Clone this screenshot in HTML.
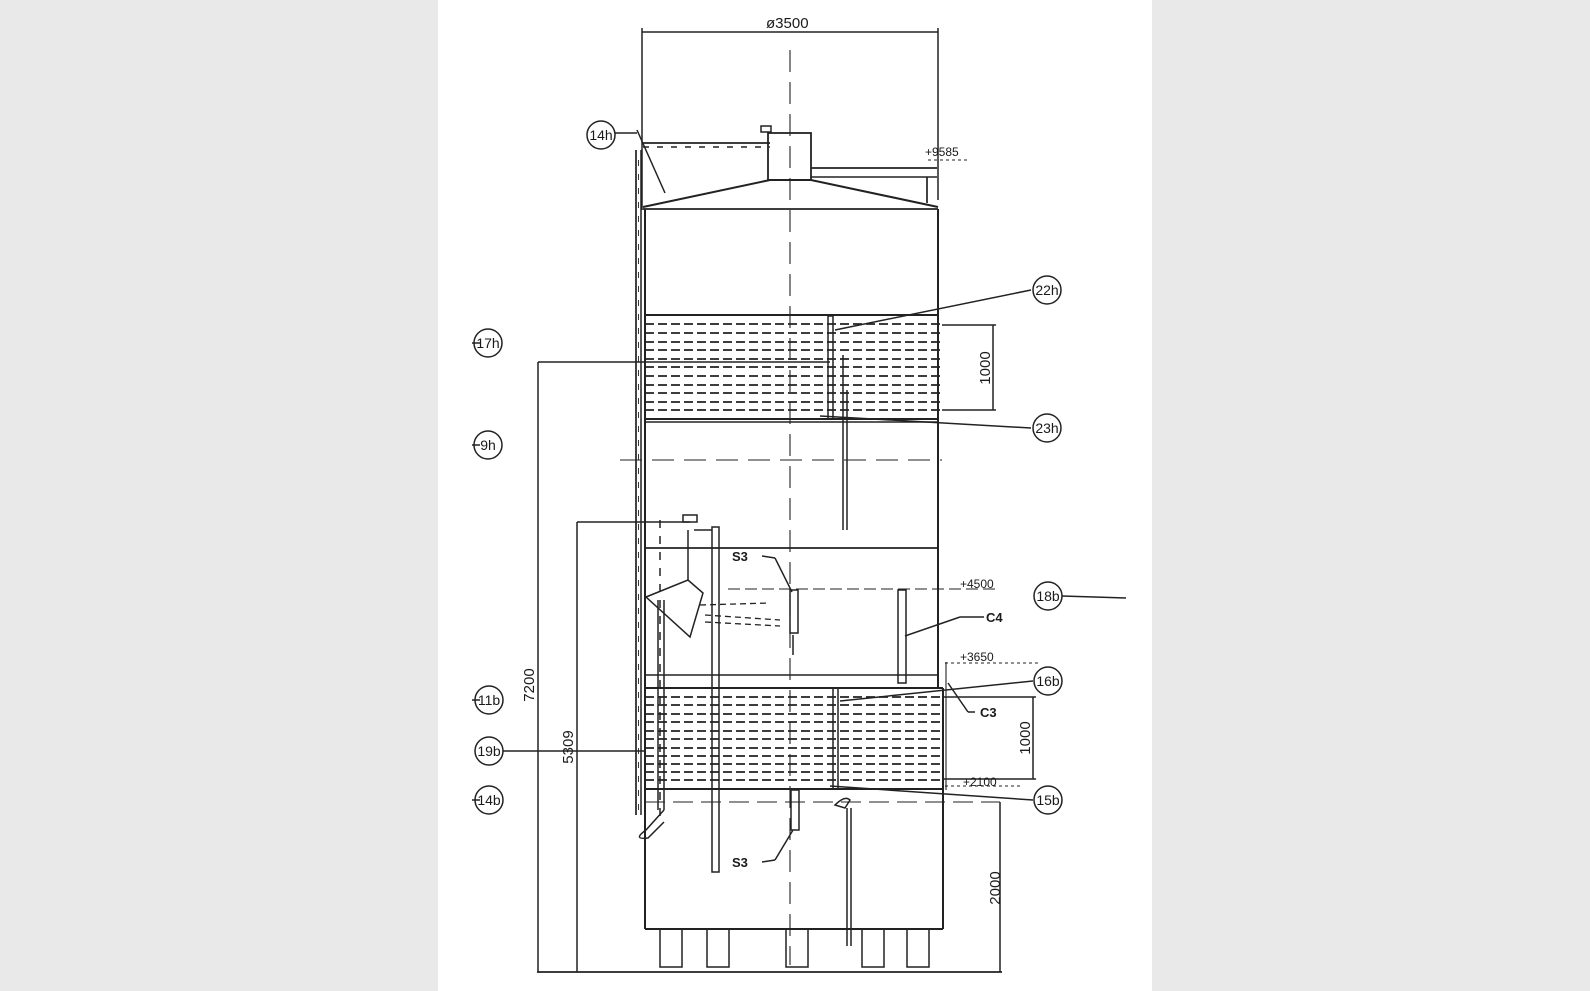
<!DOCTYPE html>
<html><head><meta charset="utf-8"><style>
html,body{margin:0;padding:0;background:#e9e9e9;}
svg{display:block;}
text{font-family:"Liberation Sans",Arial,sans-serif;fill:#1a1a1a;}
</style></head><body>
<svg width="1590" height="991" viewBox="0 0 1590 991" xmlns="http://www.w3.org/2000/svg">
<rect x="0" y="0" width="1590" height="991" fill="#e9e9e9"/>
<rect x="438" y="0" width="714" height="991" fill="#fff"/>
<g stroke="#222" fill="none" stroke-width="1.5">
<line x1="642" y1="32" x2="938" y2="32"/>
<line x1="642" y1="28" x2="642" y2="210"/>
<line x1="938" y1="28" x2="938" y2="200"/>
<line x1="790" y1="50" x2="790" y2="965" stroke-dasharray="22,10" stroke-width="1.1"/>
<polyline points="643,207 770,180 811,180 938,207" stroke-width="2"/>
<line x1="643" y1="209" x2="938" y2="209" stroke-width="1.7"/>
<rect x="768" y="133" width="43" height="47" stroke-width="1.8"/>
<rect x="761" y="126" width="10" height="6"/>
<line x1="643" y1="143" x2="770" y2="143" stroke-width="1.7"/>
<line x1="643" y1="147" x2="770" y2="147" stroke-dasharray="6,8"/>
<line x1="811" y1="168" x2="937" y2="168" stroke-width="1.7"/>
<line x1="811" y1="177" x2="937" y2="177"/>
<line x1="927" y1="177" x2="927" y2="203" stroke-width="1.7"/>
<line x1="637" y1="130" x2="665" y2="193"/>
<line x1="636" y1="150" x2="636" y2="815" stroke-width="1.7"/>
<line x1="641" y1="150" x2="641" y2="815"/>
<line x1="638.5" y1="160" x2="638.5" y2="810" stroke-dasharray="6,8" stroke-width="0.9"/>
<line x1="645" y1="209" x2="645" y2="929" stroke-width="2"/>
<line x1="938" y1="209" x2="938" y2="688" stroke-width="2"/>
<line x1="943" y1="688" x2="943" y2="929" stroke-width="2"/>
<line x1="645" y1="929" x2="943" y2="929" stroke-width="2"/>
<line x1="645" y1="315" x2="938" y2="315" stroke-width="2"/>
<line x1="645" y1="419" x2="938" y2="419" stroke-width="2"/>
<line x1="645" y1="422" x2="938" y2="422"/>
<rect x="828" y="316" width="5" height="103"/>
<g stroke-dasharray="9,4" stroke-width="1.8">
<line x1="645" y1="324" x2="942" y2="324"/><line x1="645" y1="333" x2="942" y2="333"/>
<line x1="645" y1="342" x2="942" y2="342"/><line x1="645" y1="350" x2="942" y2="350"/>
<line x1="645" y1="359" x2="942" y2="359"/><line x1="645" y1="367" x2="942" y2="367"/>
<line x1="645" y1="376" x2="942" y2="376"/><line x1="645" y1="385" x2="942" y2="385"/>
<line x1="645" y1="393" x2="942" y2="393"/><line x1="645" y1="402" x2="942" y2="402"/>
<line x1="645" y1="410" x2="942" y2="410"/>
</g>
<line x1="942" y1="325" x2="996" y2="325"/><line x1="942" y1="410" x2="996" y2="410"/>
<line x1="993" y1="325" x2="993" y2="410"/>
<line x1="843" y1="355" x2="843" y2="530"/><line x1="847" y1="390" x2="847" y2="530"/>
<line x1="620" y1="460" x2="942" y2="460" stroke-dasharray="22,10" stroke-width="1.1"/>
<line x1="645" y1="548" x2="938" y2="548" stroke-width="1.7"/>
<line x1="645" y1="675" x2="938" y2="675" stroke-width="1.5"/>
<line x1="728" y1="589" x2="1000" y2="589" stroke-dasharray="12,5" stroke-width="1.1"/>
<line x1="945" y1="663" x2="1040" y2="663" stroke-dasharray="3,3" stroke-width="0.9"/>
<line x1="946" y1="662" x2="946" y2="790" stroke-width="1.1"/>
<polygon points="646,597 688,580 703,593 690,637" stroke-width="1.5"/>
<line x1="688" y1="580" x2="688" y2="530"/>
<rect x="683" y="515" width="14" height="7"/>
<line x1="577" y1="522" x2="690" y2="522" stroke-width="1.6"/>
<line x1="660" y1="520" x2="660" y2="820" stroke-dasharray="8,8"/>
<line x1="658" y1="600" x2="658" y2="810"/><line x1="664" y1="600" x2="664" y2="810"/>
<path d="M664,810 L646,830 Q632,840 648,838 L664,822"/>
<rect x="712" y="527" width="7" height="345" stroke-width="1.5"/>
<line x1="694" y1="530" x2="712" y2="530"/>
<rect x="790" y="590" width="8" height="43"/>
<line x1="793" y1="635" x2="793" y2="655"/>
<rect x="791" y="790" width="8" height="40"/>
<rect x="898" y="590" width="8" height="93"/>
<g stroke-dasharray="6,4" stroke-width="1.3">
<line x1="700" y1="605" x2="770" y2="603"/><line x1="705" y1="615" x2="780" y2="620"/><line x1="705" y1="622" x2="780" y2="626"/>
</g>
<line x1="645" y1="688" x2="943" y2="688" stroke-width="2"/>
<line x1="645" y1="789" x2="943" y2="789" stroke-width="2"/>
<rect x="833" y="688" width="5" height="101"/>
<g stroke-dasharray="9,4" stroke-width="1.8">
<line x1="645" y1="697" x2="944" y2="697"/><line x1="645" y1="705" x2="944" y2="705"/>
<line x1="645" y1="714" x2="944" y2="714"/><line x1="645" y1="722" x2="944" y2="722"/>
<line x1="645" y1="731" x2="944" y2="731"/><line x1="645" y1="739" x2="944" y2="739"/>
<line x1="645" y1="748" x2="944" y2="748"/><line x1="645" y1="756" x2="944" y2="756"/>
<line x1="645" y1="764" x2="944" y2="764"/><line x1="645" y1="772" x2="944" y2="772"/>
<line x1="645" y1="780" x2="944" y2="780"/>
</g>
<line x1="944" y1="697" x2="1036" y2="697"/><line x1="944" y1="779" x2="1036" y2="779"/>
<line x1="1033" y1="697" x2="1033" y2="779"/>
<line x1="645" y1="802" x2="1000" y2="802" stroke-dasharray="20,8" stroke-width="1.1"/>
<path d="M835,805 Q845,795 850,800 L845,808 Z"/>
<line x1="847" y1="808" x2="847" y2="946"/><line x1="851" y1="808" x2="851" y2="946"/>
<rect x="660" y="929" width="22" height="38"/><rect x="707" y="929" width="22" height="38"/>
<rect x="786" y="929" width="22" height="38"/><rect x="862" y="929" width="22" height="38"/>
<rect x="907" y="929" width="22" height="38"/>
<line x1="537" y1="972" x2="1002" y2="972" stroke-width="1.7"/>
<line x1="538" y1="362" x2="538" y2="972"/>
<line x1="577" y1="522" x2="577" y2="972"/>
<line x1="1000" y1="802" x2="1000" y2="972"/>
<line x1="538" y1="362" x2="830" y2="362"/>
<line x1="503" y1="751" x2="645" y2="751"/>
<line x1="1062" y1="596" x2="1126" y2="598"/>
<line x1="1031" y1="290" x2="835" y2="330"/>
<line x1="1031" y1="428" x2="820" y2="416"/>
<line x1="1033" y1="681" x2="840" y2="701"/>
<line x1="1033" y1="800" x2="830" y2="786"/>
<line x1="762" y1="556" x2="775" y2="558"/><line x1="775" y1="558" x2="792" y2="592"/>
<line x1="762" y1="862" x2="775" y2="860"/><line x1="775" y1="860" x2="793" y2="830"/>
<line x1="984" y1="617" x2="960" y2="617"/><line x1="960" y1="617" x2="905" y2="636"/>
<line x1="975" y1="712" x2="968" y2="712"/><line x1="968" y1="712" x2="948" y2="683"/>
<line x1="472" y1="343" x2="480" y2="343"/><line x1="472" y1="445" x2="480" y2="445"/>
<line x1="472" y1="700" x2="480" y2="700"/><line x1="472" y1="800" x2="480" y2="800"/>
<line x1="928" y1="160" x2="968" y2="160" stroke-dasharray="3,3" stroke-width="0.9"/>
<line x1="945" y1="786" x2="1020" y2="786" stroke-dasharray="3,3" stroke-width="0.9"/>
<circle cx="601" cy="135" r="14"/><circle cx="1047" cy="290" r="14"/>
<circle cx="488" cy="343" r="14"/><circle cx="1047" cy="428" r="14"/>
<circle cx="488" cy="445" r="14"/><circle cx="1048" cy="596" r="14"/>
<circle cx="489" cy="700" r="14"/><circle cx="489" cy="751" r="14"/>
<circle cx="489" cy="800" r="14"/><circle cx="1048" cy="681" r="14"/>
<circle cx="1048" cy="800" r="14"/>
<line x1="615" y1="133" x2="637" y2="133"/>
</g>
<g font-size="14" text-anchor="middle">
<text x="601" y="140">14h</text><text x="1047" y="295">22h</text>
<text x="488" y="348">17h</text><text x="1047" y="433">23h</text>
<text x="488" y="450">9h</text><text x="1048" y="601">18b</text>
<text x="489" y="705">11b</text><text x="489" y="756">19b</text>
<text x="489" y="805">14b</text><text x="1048" y="686">16b</text>
<text x="1048" y="805">15b</text>
</g>
<g font-size="14">
<text x="766" y="28" font-size="15">ø3500</text>
<text x="925" y="156" font-size="12">+9585</text>
<text x="960" y="588" font-size="12">+4500</text>
<text x="960" y="661" font-size="12">+3650</text>
<text x="963" y="786" font-size="12">+2100</text>
<text x="732" y="561" font-weight="bold" font-size="13">S3</text>
<text x="732" y="867" font-weight="bold" font-size="13">S3</text>
<text x="986" y="622" font-weight="bold" font-size="13">C4</text>
<text x="980" y="717" font-weight="bold" font-size="13">C3</text>
<text transform="translate(990,368) rotate(-90)" text-anchor="middle" font-size="15">1000</text>
<text transform="translate(1030,738) rotate(-90)" text-anchor="middle" font-size="15">1000</text>
<text transform="translate(1000,888) rotate(-90)" text-anchor="middle" font-size="15">2000</text>
<text transform="translate(534,685) rotate(-90)" text-anchor="middle" font-size="15">7200</text>
<text transform="translate(573,747) rotate(-90)" text-anchor="middle" font-size="15">5309</text>
</g>
</svg>
</body></html>
